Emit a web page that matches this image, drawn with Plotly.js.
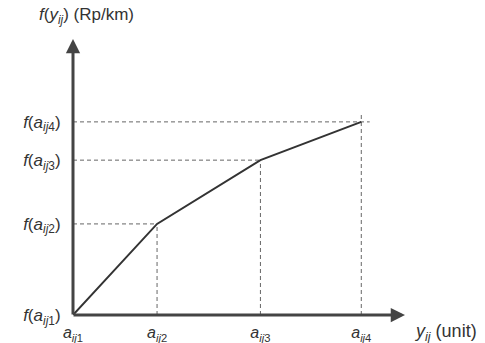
<!DOCTYPE html>
<html>
<head>
<meta charset="utf-8">
<script src="https://cdn.plot.ly/plotly-3.0.1.min.js"></script>
<style>html,body{margin:0;padding:0;background:#fff;}#chart{width:485px;height:343px;}</style>
</head>
<body>
<div id="chart"></div>
<script>
// breakpoints a_ij1..a_ij4 (relative units)
var breakX = [0, 1, 2.23, 3.43];
// cost values f(a_ij1)..f(a_ij4)
var breakY = [0, 1, 1.70, 2.12];
var xTickLabels = ['<i>a</i><sub><i>ij</i>1</sub>', '<i>a</i><sub><i>ij</i>2</sub>', '<i>a</i><sub><i>ij</i>3</sub>', '<i>a</i><sub><i>ij</i>4</sub>'];
var yTickLabels = ['<i>f</i>(<i>a</i><sub><i>ij</i>1</sub>)', '<i>f</i>(<i>a</i><sub><i>ij</i>2</sub>)', '<i>f</i>(<i>a</i><sub><i>ij</i>3</sub>)', '<i>f</i>(<i>a</i><sub><i>ij</i>4</sub>)'];
var xTitle = '<i>y<sub>ij</sub></i> (unit)';
var yTitle = '<i>f</i>(<i>y<sub>ij</sub></i>) (Rp/km)';

var traces = [];
var dashStyle = {color: '#666', width: 1, dash: '4px,3px'};
for (var i = 1; i < breakX.length; i++) {
  var last = (i === breakX.length - 1);
  traces.push({x: [0, breakX[i] + (last ? 0.1 : 0)], y: [breakY[i], breakY[i]], mode: 'lines', line: dashStyle, hoverinfo: 'skip', showlegend: false});
  traces.push({x: [breakX[i], breakX[i]], y: [0, breakY[i] + (last ? 0.08 : 0)], mode: 'lines', line: dashStyle, hoverinfo: 'skip', showlegend: false});
}
traces.push({x: breakX, y: breakY, mode: 'lines', line: {color: '#333', width: 2}, showlegend: false});

var font = {family: 'Liberation Sans, Arial, sans-serif', size: 17, color: '#333'};
var layout = {
  width: 485, height: 343,
  margin: {l: 73, r: 80, t: 39, b: 28, pad: 0},
  paper_bgcolor: '#fff', plot_bgcolor: '#fff',
  font: font,
  showlegend: false,
  xaxis: {range: [0, 3.95], tickvals: breakX, ticktext: xTickLabels, showgrid: false, zeroline: false, showline: false,
          ticks: 'outside', ticklen: 3, tickcolor: 'rgba(0,0,0,0)', tickfont: {family: font.family, size: 16, color: '#333'}, fixedrange: true},
  yaxis: {range: [0, 3.03], tickvals: breakY, ticktext: yTickLabels, showgrid: false, zeroline: false, showline: false,
          ticks: 'outside', ticklen: 8, tickcolor: 'rgba(0,0,0,0)', fixedrange: true},
  annotations: [
    {xref: 'paper', yref: 'paper', x: 0, y: 1, ax: 0, ay: 277, text: '', showarrow: true, arrowhead: 2, arrowsize: 0.95, arrowwidth: 3, arrowcolor: '#444'},
    {xref: 'paper', yref: 'paper', x: 1, y: 0, ax: -333, ay: 0, text: '', showarrow: true, arrowhead: 2, arrowsize: 0.95, arrowwidth: 3, arrowcolor: '#444'},
    {xref: 'paper', yref: 'paper', x: 1, y: 0, xanchor: 'left', yanchor: 'top', xshift: 7, yshift: -4, text: xTitle, showarrow: false, font: {family: font.family, size: 18, color: '#333'}},
    {xref: 'paper', yref: 'paper', x: 0, y: 1, xanchor: 'center', yanchor: 'bottom', xshift: 13, yshift: 10, text: yTitle, showarrow: false, font: font}
  ]
};
Plotly.newPlot('chart', traces, layout, {displayModeBar: false, staticPlot: true});
</script>
</body>
</html>
